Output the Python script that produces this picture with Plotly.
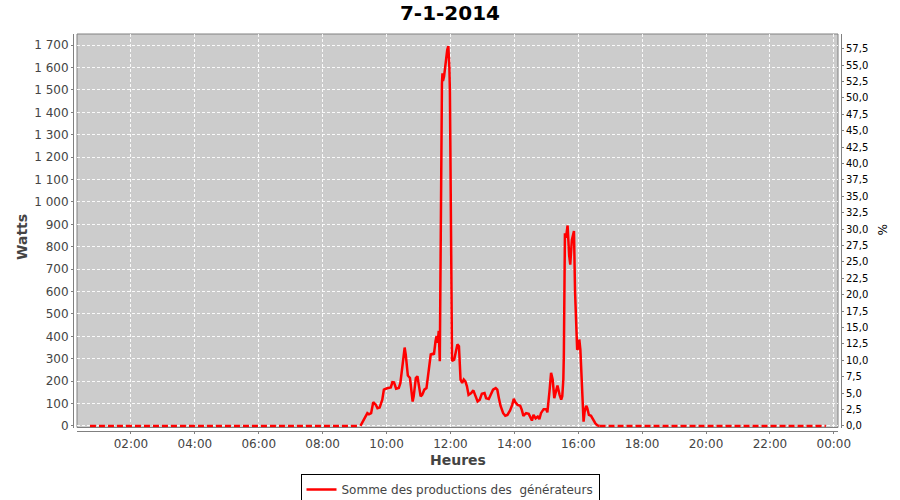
import plotly.graph_objects as go

DATE = "2014-01-07"
TITLE = "7-1-2014"
SERIES_NAME = "Somme des productions des\u00a0 générateurs"
PEAK_POWER_W = 2930  # 100 % on right axis

# morning (no production)
night1_times = ["00:43", "02:00", "04:00", "06:00", "08:00", "09:10"]
night1_watts = [0, 0, 0, 0, 0, 0]

# daytime production
day_times = [
    "09:11", "09:20", "09:24", "09:27", "09:31", "09:35", "09:40", "09:43", "09:47", "09:52",
    "09:55", "10:01", "10:08", "10:11", "10:14", "10:18", "10:23", "10:26", "10:29", "10:34",
    "10:36", "10:40", "10:44", "10:47", "10:49", "10:51", "10:55", "10:58", "11:01", "11:04",
    "11:07", "11:11", "11:15", "11:18", "11:23", "11:27", "11:29", "11:32", "11:34", "11:36",
    "11:38", "11:40", "11:41", "11:42", "11:43", "11:44", "11:45", "11:46", "11:48", "11:50",
    "11:52", "11:54", "11:56", "11:58", "11:59", "12:00", "12:01", "12:02", "12:03", "12:07",
    "12:13", "12:16", "12:19", "12:22", "12:25", "12:28", "12:31", "12:34", "12:39", "12:43",
    "12:47", "12:51", "12:55", "12:59", "13:04", "13:07", "13:12", "13:15", "13:20", "13:25",
    "13:28", "13:31", "13:34", "13:39", "13:43", "13:47", "13:52", "13:56", "13:59", "14:02",
    "14:06", "14:11", "14:14", "14:17", "14:22", "14:27", "14:30", "14:33", "14:36", "14:40",
    "14:44", "14:47", "14:50", "14:55", "15:00", "15:02", "15:06", "15:09", "15:12", "15:15",
    "15:19", "15:21", "15:25", "15:28", "15:30", "15:32", "15:33", "15:34", "15:35", "15:37",
    "15:40", "15:43", "15:45", "15:48", "15:52", "15:54", "15:56", "15:58", "16:01", "16:02",
    "16:04", "16:07", "16:09", "16:10", "16:12", "16:15", "16:17", "16:20", "16:24", "16:28",
    "16:32", "16:36", "16:40",
]
day_watts = [
    0, 42, 57, 52, 57, 106, 94, 79, 82, 117,
    162, 168, 172, 196, 195, 166, 169, 192, 251, 350,
    319, 225, 214, 147, 109, 132, 214, 222, 184, 132,
    139, 162, 169, 222, 319, 323, 319, 379, 401, 371,
    424, 289, 740, 1100, 1397, 1530, 1574, 1540, 1560, 1590,
    1640, 1680, 1696, 1600, 1490, 1200, 900, 530, 290, 296,
    364, 356, 207, 192, 207, 199, 177, 139, 147, 159,
    132, 109, 117, 144, 147, 124, 120, 139, 162, 169,
    162, 124, 90, 57, 45, 49, 69, 94, 121, 105,
    94, 90, 72, 45, 57, 54, 34, 24, 49, 34,
    42, 30, 57, 75, 75, 60, 154, 237, 207, 124,
    162, 180, 139, 117, 132, 207, 320, 560, 860, 840,
    895, 760, 720, 830, 870, 600, 400, 340, 349, 386,
    341, 162, 42, 19, 64, 90, 79, 49, 45, 27,
    12, 2, 0,
]

# evening (no production)
night2_times = ["16:40", "18:00", "20:00", "22:00", "23:45"]
night2_watts = [0, 0, 0, 0, 0]

X_RANGE = ["2014-01-07 00:18:40", "2014-01-08 00:07:50"]
Y_RANGE = [-7, 1750]


def ts(t):
    return f"{DATE} {t}:00"


RED = "#ff0000"
GRID = "rgba(255,255,255,0.9)"
AXIS_GRAY = "#808080"
TXT = "#444444"
FONT = "DejaVu Sans"

fig = go.Figure()

fig.add_trace(go.Scatter(
    x=[ts(t) for t in night1_times], y=night1_watts, mode="lines",
    line=dict(color=RED, width=2.5, dash="6px,3px"), showlegend=False, hoverinfo="skip"))
fig.add_trace(go.Scatter(
    x=[ts(t) for t in day_times], y=day_watts, mode="lines", name=SERIES_NAME,
    line=dict(color=RED, width=2.5), showlegend=True))
fig.add_trace(go.Scatter(
    x=[ts(t) for t in night2_times], y=night2_watts, mode="lines",
    line=dict(color=RED, width=2.5, dash="6px,3px"), showlegend=False, hoverinfo="skip"))
# invisible companion on the percent axis
fig.add_trace(go.Scatter(
    x=[ts(t) for t in day_times], y=[w / PEAK_POWER_W * 100 for w in day_watts],
    yaxis="y2", mode="lines", line=dict(color="rgba(0,0,0,0)", width=0),
    showlegend=False, hoverinfo="skip"))

ml, mr, mt, mb = 73, 59, 34, 69
pw = 900 - ml - mr
ph = 500 - mt - mb

fig.update_layout(
    width=900, height=500,
    margin=dict(l=ml, r=mr, t=mt, b=mb, pad=0, autoexpand=False),
    paper_bgcolor="white",
    plot_bgcolor="#cccccc",
    separators=", ",
    font=dict(family=FONT, size=12, color=TXT),
    title=dict(text="<b>" + TITLE + "</b>", x=0.5, xref="container", xanchor="center",
               y=1 - 13 / 500, yref="container", yanchor="middle",
               font=dict(family=FONT, size=20, color="black")),
    xaxis=dict(
        type="date", range=X_RANGE,
        domain=[(77 - ml) / pw, (838 - ml) / pw],
        anchor="free", position=0, automargin=False,
        tick0="2014-01-07 00:00:00", dtick=2 * 3600 * 1000, tickformat="%H:%M",
        showgrid=True, gridcolor=GRID, gridwidth=1, griddash="3px,2px",
        showline=True, linecolor=AXIS_GRAY, linewidth=1,
        ticks="outside", ticklen=2, tickcolor=AXIS_GRAY,
        tickfont=dict(family=FONT, size=12, color=TXT),
        zeroline=False,
    ),
    yaxis=dict(
        range=Y_RANGE,
        domain=[(431 - 427.5) / ph, 1],
        anchor="free", position=0, automargin=False,
        dtick=100, tickformat=",d",
        showgrid=True, gridcolor=GRID, gridwidth=1, griddash="3px,2px",
        showline=True, linecolor=AXIS_GRAY, linewidth=1,
        ticks="outside", ticklen=2, tickcolor=AXIS_GRAY,
        tickfont=dict(family=FONT, size=12, color=TXT),
        zeroline=False,
    ),
    yaxis2=dict(
        range=[Y_RANGE[0] / PEAK_POWER_W * 100, Y_RANGE[1] / PEAK_POWER_W * 100],
        overlaying="y", side="right", anchor="free", position=1, automargin=False,
        dtick=2.5, tick0=0, tickformat=".1f",
        showgrid=False, zeroline=False,
        showline=True, linecolor=AXIS_GRAY, linewidth=1,
        ticks="outside", ticklen=2, tickcolor=AXIS_GRAY,
        tickfont=dict(family=FONT, size=10, color="black"),
    ),
    legend=dict(
        orientation="h", x=(450 - ml) / pw, xanchor="center",
        y=(431 - 474) / ph, yanchor="top",
        bgcolor="white", bordercolor="black", borderwidth=1,
        font=dict(family=FONT, size=12, color=TXT),
        itemwidth=30,
    ),
    shapes=[dict(type="rect", xref="x domain", yref="y domain", x0=0, x1=1, y0=0, y1=1,
                 line=dict(color=AXIS_GRAY, width=1), layer="below")],
    annotations=[
        dict(text="<b>Watts</b>", xref="paper", yref="paper",
             x=(22 - ml) / pw, y=(431 - 237) / ph, showarrow=False, textangle=-90,
             xanchor="center", yanchor="middle", font=dict(family=FONT, size=14, color=TXT)),
        dict(text="<b>Heures</b>", xref="paper", yref="paper",
             x=(458 - ml) / pw, y=(431 - 460) / ph, showarrow=False,
             xanchor="center", yanchor="middle", font=dict(family=FONT, size=14, color=TXT)),
        dict(text="%", xref="paper", yref="paper",
             x=(882 - ml) / pw, y=(431 - 229) / ph, showarrow=False, textangle=90,
             xanchor="center", yanchor="middle", font=dict(family=FONT, size=12, color="black")),
    ],
)

fig.write_html("out.html", config={"displayModeBar": False},
               post_script="document.body.style.margin='0';")
